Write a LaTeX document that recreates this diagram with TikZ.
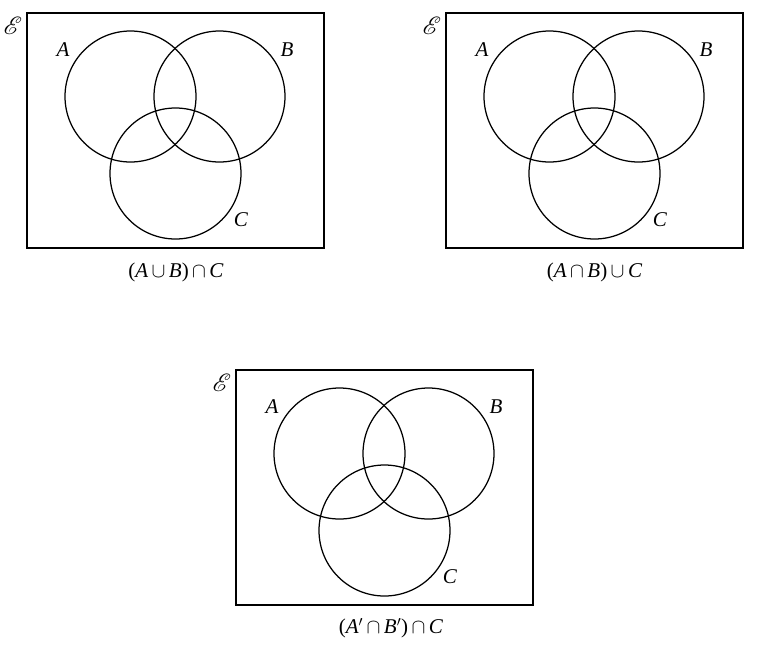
\documentclass[tikz,border=0pt]{standalone}
\usepackage{fontspec}
\setmainfont{Liberation Serif}
\usepackage{mathrsfs}
\usepackage{tikz}
\usetikzlibrary{positioning}
\newcommand{\st}[1]{\textit{#1}}

\begin{document}
\begin{tikzpicture}[x=1pt, y=-1pt,
    frame/.style={line width=1.7pt},
    set/.style={line width=1.25pt},
    lbl/.style={font=\fontsize{21}{24}\selectfont, inner sep=0pt},
    univ/.style={font=\fontsize{25}{28}\selectfont, inner sep=0pt},
    pics/venn/.style={code={
      \draw [frame] (0,0) rectangle (297,235);
      \draw [set] (103.5,83.5) circle (65.5pt);
      \draw [set] (192.5,83.5) circle (65.5pt);
      \draw [set] (148.5,160.5) circle (65.5pt);
      \node [univ] (-E) at (-14,13) {$\mathscr{E}$};
      \node [lbl] (-A) at (36,37) {\st{A}};
      \node [lbl] (-B) at (260,37) {\st{B}};
      \node [lbl] (-C) at (214,207) {\st{C}};
    }}]

      \useasboundingbox (0,0) rectangle (757,649);

      \pic (left) at (27,13) {venn};
      \pic (right) at (446,13) {venn};
      \pic (bottom) at (236,370) {venn};

      \node [lbl] (capleft) at (176,272)
      {(\st{A}$\,\cup\,$\st{B})$\,\cap\,$\st{C}};
      \node [lbl] (capright) at (594.5,272)
      {(\st{A}$\,\cap\,$\st{B})$\,\cup\,$\st{C}};
      \node [lbl] (capbottom) at (391,628)
      {(\st{A}$'\,\cap\,$\st{B}$'$)$\,\cap\,$\st{C}};

    \end{tikzpicture}
\end{document}
